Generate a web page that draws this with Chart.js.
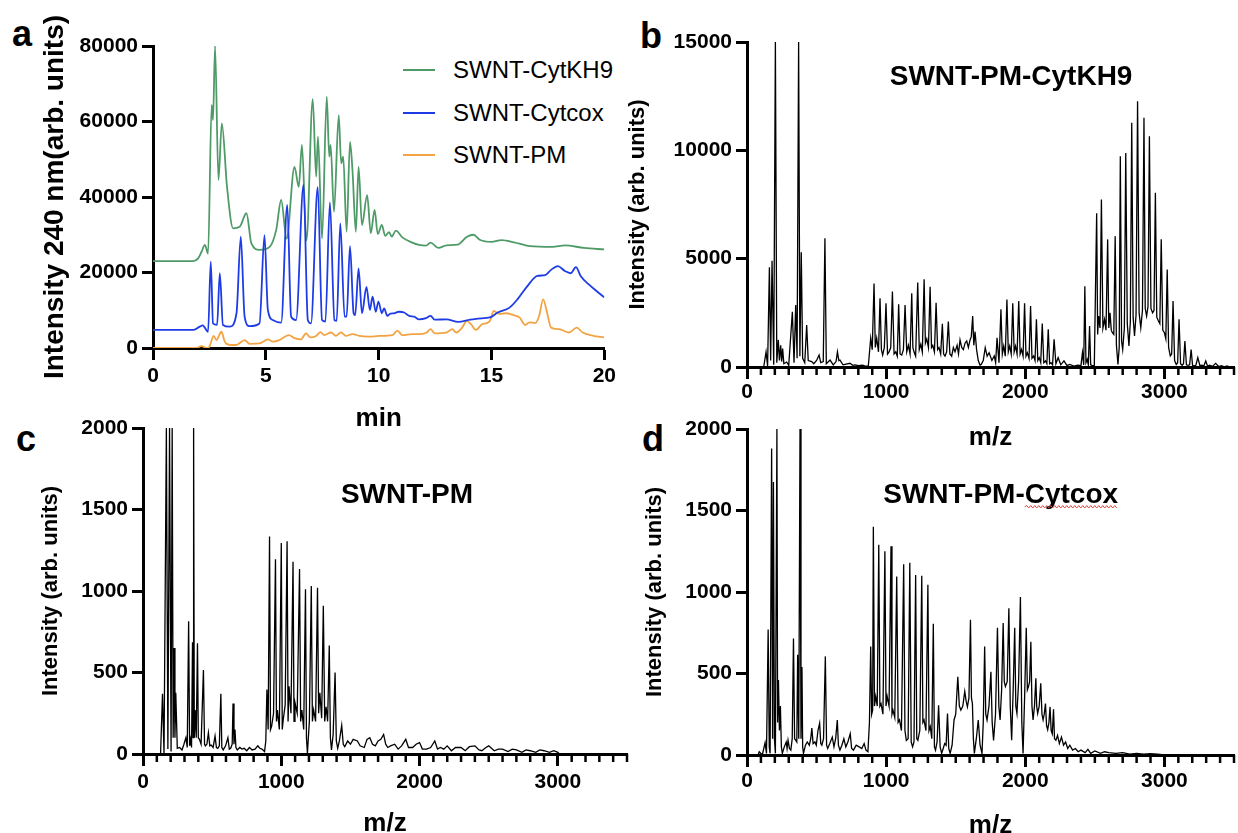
<!DOCTYPE html>
<html>
<head>
<meta charset="utf-8">
<title>HPLC and MALDI spectra</title>
<script src="https://cdn.jsdelivr.net/npm/chart.js@4.4.1/dist/chart.umd.min.js"></script>
<style>
    html, body { margin: 0; padding: 0; background: #fff; }
    body {
        position: relative;
        width: 1238px;
        height: 833px;
        overflow: hidden;
        font-family: 'Liberation Sans', Arial, Helvetica, sans-serif;
    }
    canvas { position: absolute; }
    .letter {
        position: absolute;
        font-weight: bold;
        font-size: 36px;
        line-height: 1;
        color: #000;
    }
    #legend { position: absolute; left: 403px; top: 0; }
    .legend-row {
        position: absolute;
        left: 0;
        height: 30px;
        display: flex;
        align-items: center;
        white-space: nowrap;
        font-size: 24px;
        color: #000;
    }
    .legend-swatch {
        display: inline-block;
        width: 32px;
        height: 2px;
        margin-right: 18px;
    }
</style>
</head>
<body>
<div class="letter" style="left:12px; top:16px;">a</div>
<div class="letter" style="left:640px; top:18px;">b</div>
<div class="letter" style="left:16px; top:421px;">c</div>
<div class="letter" style="left:642px; top:421px;">d</div>
<div id="legend"></div>

<canvas id="chart-a" width="620" height="440" style="left:0; top:0;"></canvas>
<canvas id="chart-b" width="618" height="460" style="left:620px; top:0;"></canvas>
<canvas id="chart-c" width="640" height="450" style="left:0; top:400px;"></canvas>
<canvas id="chart-d" width="618" height="450" style="left:620px; top:400px;"></canvas>

<script>
// ---- Panel a: HPLC traces at 240 nm, [min, intensity] ----
const seriesLabels = ['SWNT-CytKH9', 'SWNT-Cytcox', 'SWNT-PM'];
const seriesColors = ['#4f9b68', '#1e3ce6', '#f2a444'];

const timeTicks = [0, 5, 10, 15, 20];
const hplcTicks = [0, 20000, 40000, 60000, 80000];
const mzTicks = [0, 1000, 2000, 3000];
const ticksPMCytKH9 = [0, 5000, 10000, 15000];
const ticksSmall = [0, 500, 1000, 1500, 2000];

const traceCytKH9 = [
    [0, 23000], [1.0, 23000], [1.78, 23000], [2.0, 23750], [2.15, 25500], [2.3, 27300], [2.44, 25000],
    [2.6, 64400], [2.66, 60400], [2.75, 80000], [2.9, 44500], [3.05, 59500], [3.28, 42700], [3.55, 31700],
    [3.84, 32100], [4.14, 35700], [4.36, 27700], [4.72, 26000], [5.17, 26800], [5.46, 31300], [5.68, 39200],
    [5.92, 29000], [6.27, 48000], [6.46, 42700], [6.6, 53800], [6.8, 28500], [7.08, 65900], [7.23, 45400],
    [7.31, 56000], [7.49, 29000], [7.7, 66600], [7.81, 50700], [7.87, 53800], [8.02, 36100], [8.23, 61700],
    [8.34, 48900], [8.43, 50700], [8.58, 30800], [8.73, 54600], [8.84, 47100], [8.99, 30800], [9.11, 48000],
    [9.26, 32600], [9.49, 40500], [9.65, 30400], [9.82, 36600], [9.96, 30200], [10.14, 32600], [10.29, 29700],
    [10.46, 30700], [10.58, 29500], [10.76, 31100], [11.05, 29300], [11.49, 27900], [11.79, 27300],
    [12.1, 27100], [12.3, 27900], [12.65, 26500], [13.0, 27200], [13.5, 27400], [13.9, 29400], [14.2, 30000],
    [14.5, 28600], [15.0, 28100], [15.45, 28600], [16.0, 28000], [16.7, 27000], [17.7, 26800], [18.25, 27200],
    [19.1, 26500], [20, 26100]
];

const traceCytcox = [
    [0, 4800], [1.8, 4800], [2.07, 5650], [2.2, 6000], [2.44, 4300], [2.56, 22900], [2.66, 6500], [2.84, 6100],
    [2.96, 19800], [3.1, 6100], [3.4, 5650], [3.7, 9200], [3.89, 29500], [4.06, 8300], [4.28, 5800],
    [4.72, 6500], [4.94, 29900], [5.09, 10100], [5.31, 7400], [5.68, 6700], [5.95, 37900], [6.12, 8300],
    [6.34, 7400], [6.67, 43200], [6.86, 7400], [7.0, 6500], [7.3, 42600], [7.49, 7400], [7.64, 7000],
    [7.84, 38600], [8.04, 7400], [8.14, 7200], [8.3, 33000], [8.49, 8300], [8.58, 8300], [8.73, 27000],
    [8.89, 9200], [8.96, 8700], [9.11, 21100], [9.26, 9200], [9.46, 16200], [9.61, 10100], [9.73, 13600],
    [9.87, 9600], [9.99, 12300], [10.14, 9200], [10.24, 10500], [10.39, 8500], [10.49, 9000], [10.68, 9200],
    [10.9, 9600], [11.13, 9400], [11.35, 8500], [11.57, 8300], [11.79, 7600], [12.1, 7900], [12.3, 8500],
    [12.48, 7500], [13.0, 7600], [13.53, 6900], [14.05, 7500], [14.4, 7800], [14.93, 8100], [15.28, 9400],
    [15.8, 10700], [16.15, 12900], [16.59, 16400], [17.03, 19100], [17.38, 19300], [17.64, 20700],
    [17.94, 21700], [18.25, 20400], [18.51, 19800], [18.74, 21400], [18.95, 19100], [19.3, 16900],
    [19.65, 15100], [20, 13400]
];

const tracePM = [
    [0, 0], [1.93, 0], [2.15, 500], [2.37, 0], [2.5, 350], [2.69, 3200], [2.81, 2100], [3.03, 4300],
    [3.18, 1700], [3.4, 800], [3.69, 800], [4.06, 2100], [4.28, 1100], [4.72, 1200], [5.09, 2300],
    [5.31, 1700], [5.6, 2100], [6.02, 3400], [6.27, 2600], [6.56, 2300], [6.78, 3900], [6.96, 2800],
    [7.23, 3200], [7.42, 4200], [7.59, 3400], [7.89, 4100], [8.1, 3200], [8.33, 4100], [8.55, 3200],
    [8.84, 3700], [9.14, 3200], [9.58, 3000], [10.02, 3200], [10.61, 3400], [10.83, 4600], [11.05, 3400],
    [11.49, 3700], [11.86, 3700], [12.13, 4100], [12.3, 5000], [12.48, 3900], [13.0, 4100], [13.26, 5000],
    [13.44, 4100], [13.7, 5400], [13.91, 7200], [14.09, 6300], [14.31, 4800], [14.58, 6300], [14.79, 6600],
    [14.93, 7200], [15.1, 9800], [15.36, 9000], [15.63, 9200], [15.98, 8700], [16.24, 8100], [16.5, 6100],
    [16.68, 6800], [16.94, 6600], [17.11, 8500], [17.29, 12900], [17.46, 9400], [17.64, 5400], [17.99, 5000],
    [18.43, 4100], [18.78, 5400], [19.04, 4100], [19.48, 3300], [20, 2800]
];

// ---- Panels b-d: MALDI spectra, [m/z, intensity] ----
const spectrumPMCytKH9 = [
    [0, 0], [120, 0], [137, 700], [148, 50], [161, 4600], [170, 300], [180, 4900], [192, 100], [204, 15000],
    [214, 200], [225, 1250], [233, 300], [242, 1000], [249, 250], [256, 850], [265, 150], [285, 230], [300, 80],
    [326, 2550], [338, 200], [350, 2860], [360, 400], [371, 15000], [380, 500], [390, 5300], [400, 400],
    [415, 200], [429, 1940], [440, 300], [465, 250], [480, 150], [500, 300], [518, 550], [530, 200], [548, 250],
    [560, 5940], [570, 150], [597, 320], [620, 100], [640, 250], [650, 700], [660, 300], [668, 320], [690, 100],
    [740, 170], [760, 80], [776, 100], [800, 60], [830, 80], [850, 40], [872, 50], [889, 1330], [900, 800],
    [913, 3850], [922, 900], [932, 1330], [945, 700], [956, 3170], [966, 800], [975, 550], [987, 900],
    [999, 2940], [1010, 600], [1021, 700], [1033, 900], [1045, 3480], [1057, 600], [1069, 700], [1080, 500],
    [1090, 2900], [1100, 600], [1112, 550], [1124, 800], [1136, 2860], [1148, 700], [1160, 1000], [1172, 600],
    [1184, 3400], [1192, 900], [1200, 700], [1212, 500], [1227, 3900], [1238, 800], [1249, 1050], [1260, 700],
    [1273, 4050], [1282, 1100], [1292, 1300], [1304, 900], [1316, 3700], [1326, 900], [1335, 1000], [1347, 700],
    [1359, 2970], [1370, 800], [1380, 900], [1392, 600], [1404, 2000], [1413, 600], [1423, 500], [1435, 700],
    [1447, 2100], [1458, 600], [1471, 500], [1483, 900], [1495, 700], [1510, 1000], [1520, 600], [1531, 1250],
    [1543, 900], [1555, 800], [1567, 1100], [1579, 1200], [1591, 900], [1603, 1250], [1612, 1400], [1622, 2350],
    [1630, 1000], [1639, 1630], [1650, 800], [1662, 300], [1675, 80], [1684, 120], [1698, 300], [1712, 890],
    [1726, 500], [1740, 660], [1760, 300], [1777, 510], [1787, 200], [1797, 1350], [1811, 200], [1825, 2660],
    [1835, 600], [1845, 970], [1856, 500], [1868, 3120], [1878, 700], [1888, 970], [1899, 600], [1910, 2940],
    [1920, 700], [1930, 970], [1941, 600], [1953, 3040], [1963, 600], [1973, 810], [1984, 500], [1995, 2940],
    [2005, 500], [2015, 660], [2027, 400], [2038, 2810], [2048, 400], [2060, 510], [2070, 300], [2080, 2200],
    [2090, 300], [2100, 430], [2111, 200], [2122, 2010], [2133, 200], [2145, 280], [2155, 150], [2165, 1740],
    [2175, 150], [2185, 200], [2196, 100], [2207, 1280], [2220, 150], [2236, 430], [2255, 100], [2278, 280],
    [2300, 60], [2320, 120], [2350, 40], [2377, 80], [2400, 60], [2411, 660], [2420, 100], [2428, 3730],
    [2436, 200], [2445, 350], [2453, 100], [2462, 1890], [2470, 100], [2479, 80], [2496, 50], [2513, 7100],
    [2520, 1500], [2527, 2350], [2537, 1800], [2547, 7730], [2558, 1800], [2570, 2200], [2580, 1700],
    [2592, 5890], [2600, 1800], [2609, 2500], [2618, 1700], [2626, 1580], [2636, 1500], [2646, 6040],
    [2655, 1000], [2666, 120], [2675, 900], [2683, 9730], [2692, 1200], [2700, 810], [2712, 1800], [2722, 9880],
    [2733, 2000], [2745, 970], [2755, 2100], [2765, 11270], [2775, 2300], [2785, 1430], [2796, 2400],
    [2807, 12270], [2818, 2500], [2830, 1810], [2842, 2600], [2853, 11500], [2862, 2700], [2872, 2350],
    [2882, 2800], [2892, 10650], [2903, 2700], [2915, 2500], [2925, 2600], [2935, 8040], [2945, 2300],
    [2957, 2120], [2967, 2000], [2977, 5890], [2988, 1700], [3000, 1580], [3010, 1300], [3020, 4500],
    [3030, 900], [3042, 510], [3052, 600], [3062, 3040], [3073, 300], [3085, 120], [3095, 200], [3105, 2200],
    [3116, 150], [3127, 80], [3137, 150], [3147, 1200], [3158, 100], [3170, 80], [3181, 100], [3192, 810],
    [3202, 80], [3212, 50], [3226, 80], [3240, 430], [3255, 60], [3269, 80], [3283, 50], [3297, 280], [3310, 40],
    [3325, 80], [3345, 30], [3368, 170], [3390, 20], [3410, 60], [3430, 10], [3450, 50], [3470, 0], [3500, 0]
];

const spectrumPM = [
    [0, 0], [127, 0], [141, 370], [152, 0], [169, 2000], [180, 30], [192, 2000], [203, 15], [211, 2000],
    [218, 100], [225, 650], [231, 100], [237, 375], [248, 35], [265, 40], [282, 25], [296, 60], [310, 100],
    [320, 40], [330, 815], [337, 50], [344, 90], [351, 40], [358, 685], [362, 100], [366, 2000], [371, 100],
    [377, 270], [385, 100], [394, 680], [400, 100], [408, 90], [420, 60], [437, 515], [445, 60], [451, 50],
    [462, 60], [473, 130], [483, 50], [493, 55], [507, 40], [521, 110], [531, 40], [541, 35], [552, 50],
    [563, 370], [570, 40], [580, 25], [597, 50], [614, 100], [624, 30], [634, 35], [645, 60], [651, 310],
    [658, 60], [665, 150], [672, 40], [682, 25], [700, 40], [715, 30], [732, 35], [750, 20], [770, 40],
    [789, 25], [810, 30], [830, 50], [845, 35], [860, 30], [879, 15], [888, 80], [896, 395], [905, 150],
    [915, 1335], [922, 150], [930, 170], [944, 250], [958, 1195], [965, 200], [972, 270], [986, 150],
    [1000, 1295], [1007, 150], [1014, 210], [1028, 300], [1042, 1305], [1049, 200], [1056, 415], [1070, 250],
    [1085, 1180], [1092, 200], [1099, 315], [1115, 250], [1132, 1135], [1140, 200], [1149, 270], [1162, 150],
    [1175, 1010], [1182, 100], [1189, 5], [1203, 200], [1217, 1030], [1225, 200], [1234, 270], [1248, 200],
    [1262, 1020], [1270, 250], [1279, 375], [1292, 220], [1304, 910], [1314, 200], [1324, 290], [1335, 200],
    [1347, 665], [1355, 100], [1363, 25], [1375, 120], [1389, 500], [1398, 80], [1408, 35], [1420, 80],
    [1437, 175], [1448, 60], [1459, 45], [1480, 80], [1500, 60], [1520, 90], [1550, 80], [1570, 50],
    [1600, 40], [1620, 90], [1640, 100], [1660, 60], [1680, 50], [1700, 80], [1720, 90], [1740, 120],
    [1755, 60], [1770, 40], [1790, 50], [1820, 60], [1845, 30], [1870, 50], [1900, 90], [1920, 40],
    [1950, 40], [1975, 60], [2000, 70], [2020, 30], [2050, 30], [2080, 40], [2110, 80], [2130, 30],
    [2150, 40], [2175, 30], [2200, 50], [2230, 20], [2260, 40], [2300, 40], [2330, 20], [2360, 45],
    [2400, 50], [2430, 25], [2450, 20], [2480, 40], [2500, 50], [2540, 20], [2570, 30], [2600, 30],
    [2640, 15], [2670, 30], [2700, 25], [2740, 10], [2770, 25], [2800, 20], [2840, 10], [2870, 25],
    [2900, 20], [2940, 10], [2970, 20], [3000, 10], [3010, 0], [3500, 0]
];

const spectrumPMCytcox = [
    [0, 0], [80, 0], [88, 20], [110, 0], [130, 75], [140, 10], [152, 770], [160, 50], [166, 10], [177, 1880],
    [184, 100], [190, 1675], [197, 100], [204, 10], [215, 2000], [220, 200], [226, 460], [233, 150], [240, 300],
    [247, 50], [254, 10], [268, 50], [282, 80], [288, 40], [295, 90], [305, 40], [315, 30], [325, 100],
    [334, 715], [342, 100], [351, 90], [358, 80], [364, 615], [372, 100], [381, 2000], [388, 100], [395, 540],
    [400, 50], [406, 10], [420, 60], [433, 80], [448, 60], [458, 100], [466, 165], [475, 70], [488, 80],
    [498, 60], [510, 150], [522, 195], [530, 70], [538, 60], [550, 100], [563, 605], [572, 60], [580, 40],
    [595, 70], [613, 110], [625, 50], [637, 100], [649, 215], [657, 60], [668, 30], [682, 60], [696, 100],
    [710, 50], [725, 80], [742, 130], [752, 40], [765, 30], [785, 60], [806, 50], [825, 40], [842, 70],
    [855, 30], [869, 20], [880, 200], [889, 665], [896, 250], [903, 275], [908, 1400], [916, 300], [925, 360],
    [936, 300], [947, 1290], [955, 300], [963, 315], [977, 250], [991, 1250], [999, 300], [1007, 360],
    [1021, 300], [1035, 1280], [1042, 250], [1049, 275], [1062, 230], [1076, 1095], [1086, 200], [1096, 215],
    [1110, 150], [1126, 1170], [1135, 150], [1145, 90], [1158, 100], [1170, 1180], [1180, 80], [1190, 50],
    [1200, 80], [1212, 1105], [1220, 100], [1228, 90], [1242, 150], [1256, 1100], [1264, 200], [1272, 215],
    [1286, 150], [1300, 1045], [1308, 150], [1317, 175], [1328, 100], [1339, 805], [1347, 50], [1355, 30],
    [1366, 80], [1377, 305], [1388, 50], [1399, 10], [1410, 40], [1421, 70], [1431, 60], [1441, 255],
    [1450, 40], [1460, 10], [1474, 60], [1488, 215], [1500, 250], [1515, 480], [1526, 300], [1537, 275],
    [1551, 300], [1565, 390], [1575, 330], [1584, 295], [1595, 350], [1606, 830], [1613, 350], [1620, 315],
    [1627, 100], [1634, 10], [1648, 100], [1662, 215], [1675, 60], [1689, 10], [1698, 200], [1708, 665],
    [1716, 250], [1725, 215], [1739, 300], [1753, 510], [1762, 200], [1772, 90], [1786, 250], [1800, 780],
    [1810, 300], [1819, 215], [1830, 400], [1841, 810], [1849, 450], [1857, 420], [1870, 450], [1882, 900],
    [1892, 300], [1902, 90], [1913, 400], [1924, 780], [1932, 300], [1940, 255], [1952, 450], [1965, 970],
    [1975, 200], [1984, 10], [1995, 350], [2007, 780], [2015, 400], [2023, 420], [2031, 450], [2040, 695],
    [2048, 300], [2056, 215], [2066, 300], [2076, 470], [2082, 300], [2089, 255], [2100, 300], [2111, 440],
    [2120, 250], [2128, 215], [2136, 250], [2145, 315], [2153, 180], [2161, 155], [2170, 200], [2178, 295],
    [2186, 150], [2194, 130], [2203, 280], [2210, 100], [2220, 90], [2232, 120], [2245, 70], [2260, 110],
    [2275, 60], [2290, 80], [2305, 40], [2320, 60], [2340, 30], [2360, 40], [2380, 20], [2400, 30],
    [2430, 15], [2450, 35], [2470, 10], [2500, 25], [2540, 10], [2570, 20], [2600, 15], [2650, 10],
    [2700, 15], [2750, 5], [2800, 10], [2850, 5], [2900, 8], [2950, 5], [3000, 0], [3500, 0]
];

const FONT = "'Liberation Sans', Arial, Helvetica, sans-serif";

// Small tick marks every 100 m/z between the labelled ones
const minorTicks = {
    id: 'minorTicks',
    afterDraw(chart, args, opts) {
        if (!opts.step) return;
        const xs = chart.scales.x;
        const ctx = chart.ctx;
        ctx.save();
        ctx.strokeStyle = '#000';
        ctx.lineWidth = 2.5;
        for (let v = xs.min + opts.step; v <= xs.max; v += opts.step) {
            if (v % opts.major === 0) continue;
            const px = xs.getPixelForValue(v);
            ctx.beginPath();
            ctx.moveTo(px, xs.top);
            ctx.lineTo(px, xs.top + opts.length);
            ctx.stroke();
        }
        ctx.restore();
    }
};

// Sample name written inside the plot, placed in data units
const panelTitle = {
    id: 'panelTitle',
    afterDraw(chart, args, opts) {
        if (!opts.text) return;
        const ctx = chart.ctx;
        const px = chart.scales.x.getPixelForValue(opts.x);
        const py = chart.scales.y.getPixelForValue(opts.y);
        ctx.save();
        ctx.font = `bold ${opts.size}px ${FONT}`;
        ctx.fillStyle = '#000';
        ctx.textAlign = 'center';
        ctx.textBaseline = 'middle';
        ctx.fillText(opts.text, px, py);

        // red squiggle under a word, as in the original figure
        if (opts.squiggle) {
            const full = ctx.measureText(opts.text).width;
            const start = opts.text.indexOf(opts.squiggle);
            const x0 = px - full / 2 + ctx.measureText(opts.text.slice(0, start)).width;
            const x1 = x0 + ctx.measureText(opts.squiggle).width;
            const yy = py + opts.size * 0.42;
            ctx.strokeStyle = '#e0463c';
            ctx.lineWidth = 1;
            ctx.beginPath();
            let up = true;
            ctx.moveTo(x0, yy);
            for (let x = x0 + 2; x <= x1; x += 2) {
                ctx.lineTo(x, up ? yy - 1.2 : yy + 1.2);
                up = !up;
            }
            ctx.stroke();
        }
        ctx.restore();
    }
};

// Prism-like axes: thick black lines, outward ticks, bold labels
function buildScales(cfg) {
    return {
        x: {
            type: 'linear',
            min: cfg.xMin,
            max: cfg.xMax,
            afterFit: s => { s.height = cfg.xBox; },
            afterBuildTicks: s => { s.ticks = cfg.xTicks.map(v => ({ value: v })); },
            border: { display: true, color: '#000', width: 3 },
            grid: { display: true, drawOnChartArea: false, drawTicks: true, tickLength: 12, tickWidth: 3, tickColor: '#000' },
            ticks: {
                autoSkip: false,
                maxRotation: 0,
                padding: cfg.xPad,
                color: '#000',
                font: { family: FONT, size: 21, weight: 'bold' },
                callback: v => String(v)
            },
            title: {
                display: true,
                text: cfg.xTitle,
                color: '#000',
                font: { family: FONT, size: 26, weight: 'bold' },
                padding: { top: 0, bottom: cfg.xTitlePad }
            }
        },
        y: {
            type: 'linear',
            min: 0,
            max: cfg.yTicks[cfg.yTicks.length - 1],
            afterFit: s => { s.width = cfg.yBox; },
            afterBuildTicks: s => { s.ticks = cfg.yTicks.map(v => ({ value: v })); },
            border: { display: true, color: '#000', width: 3 },
            grid: { display: true, drawOnChartArea: false, drawTicks: true, tickLength: 11, tickWidth: 3, tickColor: '#000' },
            ticks: {
                autoSkip: false,
                padding: 4,
                color: '#000',
                font: { family: FONT, size: 21, weight: 'bold' },
                callback: v => String(v)
            },
            title: {
                display: true,
                text: cfg.yTitle,
                color: '#000',
                font: { family: FONT, size: cfg.yTitleSize, weight: 'bold' },
                padding: { top: cfg.yTitlePad, bottom: 0 }
            }
        }
    };
}

// Panel a: three chromatograms
function createTraceChart() {
    const traces = [traceCytKH9, traceCytcox, tracePM];
    const ctx = document.getElementById('chart-a').getContext('2d');
    new Chart(ctx, {
        type: 'line',
        data: {
            datasets: traces.map((t, i) => ({
                label: seriesLabels[i],
                data: t,
                borderColor: seriesColors[i],
                borderWidth: 1.8,
                pointRadius: 0,
                cubicInterpolationMode: 'monotone',
                order: i === 1 ? 0 : i + 1
            }))
        },
        options: {
            responsive: false,
            animation: false,
            layout: { padding: { top: 46, right: 14, left: 0, bottom: 0 } },
            plugins: { legend: { display: false }, tooltip: { enabled: false } },
            scales: buildScales({
                xMin: 0, xMax: 20, xTicks: timeTicks, xBox: 92, xPad: 4, xTitle: 'min', xTitlePad: 6,
                yTicks: hplcTicks, yBox: 153,
                yTitle: 'Intensity 240 nm(arb. units)', yTitleSize: 28, yTitlePad: 38
            })
        }
    });

    // legend drawn as HTML rows
    const legend = document.getElementById('legend');
    seriesLabels.forEach((label, i) => {
        const row = document.createElement('div');
        row.className = 'legend-row';
        row.style.top = (55 + i * 42.5) + 'px';
        const swatch = document.createElement('span');
        swatch.className = 'legend-swatch';
        swatch.style.background = seriesColors[i];
        row.appendChild(swatch);
        row.appendChild(document.createTextNode(label));
        legend.appendChild(row);
    });
}

// Panels b-d: one black spectrum each
function createSpectrumChart(id, points, cfg, title) {
    const ctx = document.getElementById(id).getContext('2d');
    new Chart(ctx, {
        type: 'line',
        data: {
            datasets: [{
                data: points,
                borderColor: '#000',
                borderWidth: 1.3,
                pointRadius: 0,
                tension: 0
            }]
        },
        plugins: [minorTicks, panelTitle],
        options: {
            responsive: false,
            animation: false,
            layout: { padding: cfg.padding },
            plugins: {
                legend: { display: false },
                tooltip: { enabled: false },
                minorTicks: { step: 100, major: 1000, length: 8 },
                panelTitle: title
            },
            scales: buildScales(cfg)
        }
    });
}

window.onload = function() {
    createTraceChart();

    createSpectrumChart('chart-b', spectrumPMCytKH9, {
        padding: { top: 42, right: 4, left: 0, bottom: 0 },
        xMin: 0, xMax: 3500, xTicks: mzTicks, xBox: 93, xPad: 1, xTitle: 'm/z', xTitlePad: 7,
        yTicks: ticksPMCytKH9, yBox: 127,
        yTitle: 'Intensity (arb. units)', yTitleSize: 22, yTitlePad: 5
    }, { text: 'SWNT-PM-CytKH9', x: 1898, y: 13385, size: 28 });

    createSpectrumChart('chart-c', spectrumPM, {
        padding: { top: 28, right: 13, left: 0, bottom: 0 },
        xMin: 0, xMax: 3500, xTicks: mzTicks, xBox: 96, xPad: 4, xTitle: 'm/z', xTitlePad: 11,
        yTicks: ticksSmall, yBox: 143,
        yTitle: 'Intensity (arb. units)', yTitleSize: 22, yTitlePad: 38
    }, { text: 'SWNT-PM', x: 1909, y: 1589, size: 28 });

    createSpectrumChart('chart-d', spectrumPMCytcox, {
        padding: { top: 29, right: 4, left: 0, bottom: 0 },
        xMin: 0, xMax: 3500, xTicks: mzTicks, xBox: 95, xPad: 2, xTitle: 'm/z', xTitlePad: 9,
        yTicks: ticksSmall, yBox: 127,
        yTitle: 'Intensity (arb. units)', yTitleSize: 22, yTitlePad: 22
    }, { text: 'SWNT-PM-Cytcox', x: 1823, y: 1595, size: 28, squiggle: 'Cytcox' });
};
</script>
</body>
</html>
